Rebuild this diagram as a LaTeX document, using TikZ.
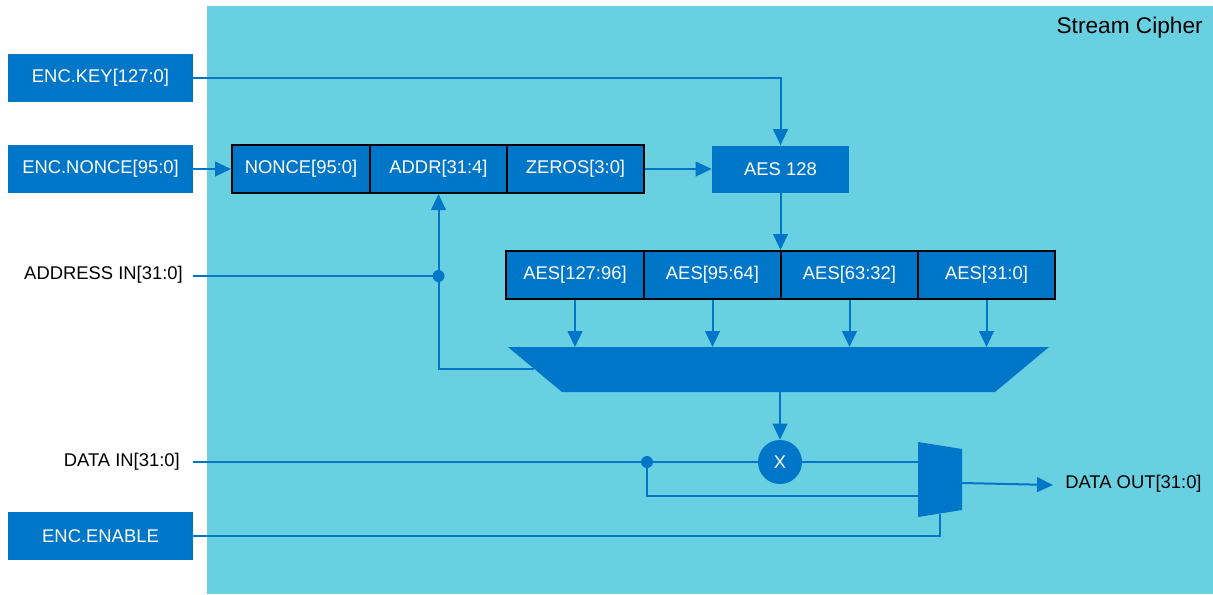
\documentclass[tikz,border=0pt]{standalone}
\usepackage{fontspec}
\setmainfont{Liberation Sans}
\usetikzlibrary{arrows.meta,calc}
\definecolor{bgcyan}{RGB}{105,208,226}
\definecolor{boxblue}{RGB}{0,118,200}
\begin{document}
\begin{tikzpicture}[x=0.75pt,y=-0.75pt,
  every node/.style={font=\fontsize{13.8}{16}\selectfont, inner sep=0pt},
  inbox/.style={fill=boxblue, text=white, minimum width=138.75pt, minimum height=36pt},
  rowbox/.style={fill=boxblue, draw=black, line width=1.5pt, text=white, minimum height=36pt},
  plain/.style={text=black},
  wire/.style={draw=boxblue, line width=1.5pt},
  arr/.style={wire, -{Triangle[length=12pt,width=11pt]}},
  dot/.style={fill=boxblue}
]
\useasboundingbox (0,0) rectangle (1213,594);
\fill[bgcyan] (207,6) rectangle (1213,594);
\node[plain, anchor=east, font=\fontsize{17}{20}\selectfont] (title) at (1203,28) {Stream Cipher};

% inputs
\node[inbox] (key) at (100.5,78) {ENC.KEY[127:0]};
\node[inbox] (nonce) at (100.5,169) {ENC.NONCE[95:0]};
\node[inbox] (enable) at (100.5,536) {ENC.ENABLE};
\node[plain, anchor=east] (addrlbl) at (183,275) {ADDRESS IN[31:0]};
\node[plain, anchor=east] (datalbl) at (180,462) {DATA IN[31:0]};
\coordinate (addrin) at (193,276);
\coordinate (datain) at (193,462);

% IV row
\node[rowbox, minimum width=103.5pt] (nb) at (301,169) {NONCE[95:0]};
\node[rowbox, minimum width=102.75pt] (ab) at (438.5,169) {ADDR[31:4]};
\node[rowbox, minimum width=102.75pt] (zb) at (575.5,169) {ZEROS[3:0]};

% AES
\node[inbox, minimum width=102.75pt, minimum height=35.25pt] (aes) at (780.5,169) {AES 128};

% AES output row
\node[rowbox, minimum width=103.5pt] (a1) at (575,275) {AES[127:96]};
\node[rowbox, minimum width=102.75pt] (a2) at (712.5,275) {AES[95:64]};
\node[rowbox, minimum width=102.75pt] (a3) at (849.5,275) {AES[63:32]};
\node[rowbox, minimum width=102.75pt] (a4) at (986.5,275) {AES[31:0]};

% word select mux
\coordinate (mtl) at (508,347);
\coordinate (mtr) at (1049,347);
\coordinate (mbr) at (995,392);
\coordinate (mbl) at (562,392);
\fill[boxblue] (mtl) -- (mtr) -- (mbr) -- (mbl) -- cycle;
\coordinate (mleft) at ($(mtl)!0.4889!(mbl)$);

% xor
\node[circle, fill=boxblue, text=white, minimum size=33pt] (xor) at (780,462) {X};

% output mux
\coordinate (otl) at (918,442);
\coordinate (otr) at (962,449);
\coordinate (obr) at (962,510);
\coordinate (obl) at (918,517);
\fill[boxblue] (otl) -- (otr) -- (obr) -- (obl) -- cycle;
\coordinate (oout) at (962,483);
\coordinate (oin1) at (918,462);
\coordinate (oin2) at (918,496);
\coordinate (osel) at (940,513.5);
\coordinate (outend) at (1053,485);
\node[plain, anchor=west] (outlbl) at (1065,484) {DATA OUT[31:0]};

% connectors
\draw[arr] (key.east) -| (aes.north);
\draw[arr] (nonce.east) -- (nb.west);
\draw[arr] (zb.east) -- (aes.west);
\draw[arr] (aes.south) -- (aes.south |- a1.north);

\coordinate (adot) at (438.5,276);
\draw[wire] (addrin) -- (adot);
\draw[arr] (adot) -- (ab.south);
\draw[wire] (adot) |- (mleft);
\fill[dot] (adot) circle[radius=4.5pt];

\foreach \n in {a1,a2,a3,a4}{
  \draw[arr] (\n.south) -- (\n.south |- mtl);
}
\draw[arr] (xor.north |- mbl) -- (xor.north);

\coordinate (ddot) at (647,462);
\draw[wire] (datain) -- (xor.west);
\draw[wire] (xor.east) -- (oin1);
\draw[wire] (ddot) |- (oin2);
\fill[dot] (ddot) circle[radius=4.5pt];

\draw[wire] (enable.east) -| (osel);
\draw[arr] (oout) -- (outend);
\end{tikzpicture}
\end{document}
